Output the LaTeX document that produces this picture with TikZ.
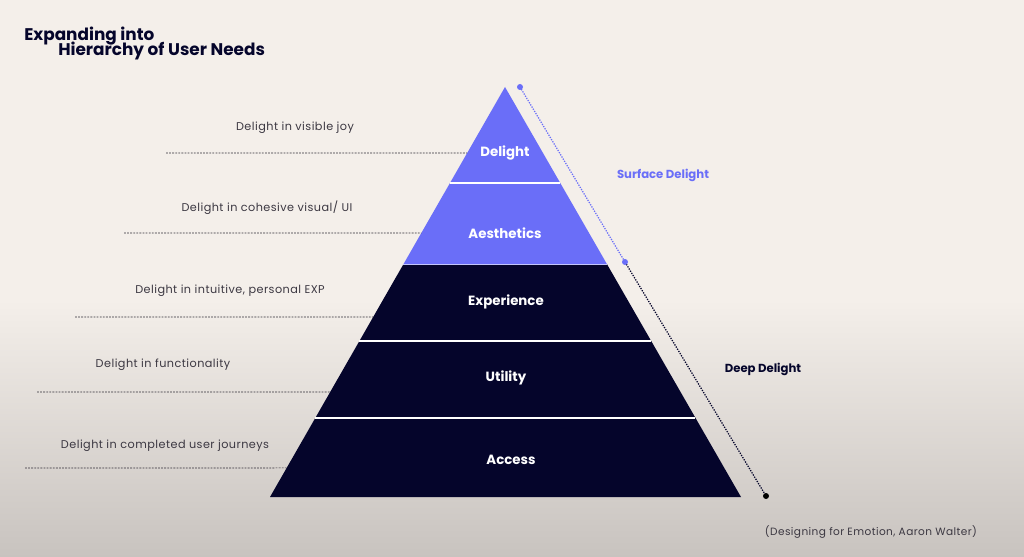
\documentclass[tikz,border=0pt]{standalone}
\usepackage{fontspec}
\setmainfont{Poppins}
\usetikzlibrary{positioning,calc}
\definecolor{navy}{HTML}{05052B}
\definecolor{violet}{HTML}{6A6EF8}
\definecolor{labelgray}{HTML}{3C3842}
\definecolor{bgtop}{HTML}{F4EFEA}
\definecolor{bgbot}{HTML}{C8C3BF}
\begin{document}
\begin{tikzpicture}[x=0.025cm, y=-0.025cm,
	lbl/.style={font=\fontsize{8}{10}\selectfont\addfontfeature{LetterSpace=4}, text=labelgray},
	lvl/.style={font=\fontsize{9.5}{11}\selectfont\bfseries, text=white},
	side/.style={font=\fontsize{8.3}{10}\selectfont\bfseries},
	ttl/.style={anchor=base west, font=\fontsize{12}{14}\selectfont\bfseries, text=navy, inner sep=0},
	guide/.style={dash pattern=on 1.3pt off 0.9pt, draw=labelgray!80!black, line width=0.5pt},
	dotline/.style={dash pattern=on 0.9pt off 0.9pt, line width=0.9pt}]
	% background
	\fill[bgtop] (0,0) rectangle (1024,557);
	\shade[top color=bgtop, bottom color=bgbot] (0,300) rectangle (1024,557);
	\useasboundingbox (0,0) rectangle (1024,557);

	% title
	\node[ttl] (t1) at (24,41) {Expanding into};
	\node[ttl] (t2) at (58,56) {Hierarchy of User Needs};

	% pyramid
	\coordinate (A) at (505,87); \coordinate (BL) at (270,497); \coordinate (BR) at (741,497);
	\coordinate (L1) at ($(A)!0.234!(BL)$); \coordinate (R1) at ($(A)!0.234!(BR)$);
	\coordinate (L2) at ($(A)!0.432!(BL)$); \coordinate (R2) at ($(A)!0.432!(BR)$);
	\coordinate (L3) at ($(A)!0.620!(BL)$); \coordinate (R3) at ($(A)!0.620!(BR)$);
	\coordinate (L4) at ($(A)!0.807!(BL)$); \coordinate (R4) at ($(A)!0.807!(BR)$);

	\fill[violet] (A) -- (L2) -- (R2) -- cycle;
	\fill[navy] (L2) -- (BL) -- (BR) -- (R2) -- cycle;
	\draw[white, line width=1.5pt] (L1) -- (R1) (L3) -- (R3) (L4) -- (R4);
	\draw[white!60!violet, line width=0.4pt] (L2) -- (R2);

	\node[lvl] (delight) at (505,153) {Delight};
	\node[lvl] (aesth) at (505,233) {Aesthetics};
	\node[lvl] (exp) at (506,302) {Experience};
	\node[lvl] (util) at (506,378) {Utility};
	\node[lvl] (access) at (511,460) {Access};

	% left guides
	\coordinate (g1) at (166,153); \coordinate (e1) at ($(A)!0.161!(BL)$);
	\coordinate (g2) at (124,233); \coordinate (e2) at ($(A)!0.356!(BL)$);
	\coordinate (g3) at (75,317);  \coordinate (e3) at ($(A)!0.561!(BL)$);
	\coordinate (g4) at (37,392);  \coordinate (e4) at ($(A)!0.744!(BL)$);
	\coordinate (g5) at (25,468);  \coordinate (e5) at ($(A)!0.929!(BL)$);
	\draw[guide] (g1) -- (e1) (g2) -- (e2) (g3) -- (e3) (g4) -- (e4) (g5) -- (e5);

	\node[lbl] (joy) at (295,128) {Delight in visible joy};
	\node[lbl] (visual) at (267,208) {Delight in cohesive visual/ UI};
	\node[lbl] (intuit) at (230,291) {Delight in intuitive, personal EXP};
	\node[lbl] (func) at (163,365) {Delight in functionality};
	\node[lbl] (journey) at (165,446) {Delight in completed user journeys};

	% right side
	\coordinate (s1) at (520,87); \coordinate (s2) at (625,262); \coordinate (s3) at (766,496);
	\draw[dotline, violet] (s1) -- (s2);
	\draw[dotline, navy] (s2) -- (s3);
	\fill[violet] (s1) circle (3) (s2) circle (3);
	\fill[black] (s3) circle (3);

	\node[side, text=violet] (surface) at (663,175) {Surface Delight};
	\node[side, text=navy] (deep) at (763,369) {Deep Delight};

	\node[lbl, anchor=west, font=\fontsize{7.5}{9}\selectfont\addfontfeature{LetterSpace=4}] (cite) at (760,532) {(Designing for Emotion, Aaron Walter)};
\end{tikzpicture}
\end{document}
